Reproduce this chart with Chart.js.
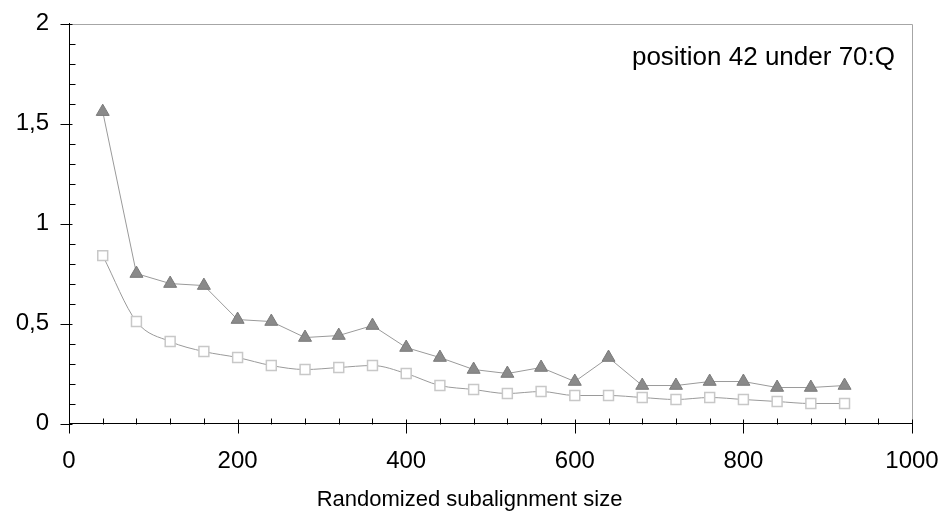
<!DOCTYPE html>
<html>
<head>
<meta charset="utf-8">
<script src="https://cdn.jsdelivr.net/npm/chart.js@4/dist/chart.umd.min.js"></script>
<style>
html,body{margin:0;padding:0;background:#fff;}
#wrap{width:947px;height:513px;position:relative;}
</style>
</head>
<body>
<div id="wrap"><canvas id="c" width="947" height="513"></canvas></div>
<script>
const sizes = [40, 80, 120, 160, 200, 240, 280, 320, 360, 400, 440, 480, 520, 560, 600, 640, 680, 720, 760, 800, 840, 880, 920];
const triangleSeries = [1.56, 0.75, 0.70, 0.69, 0.52, 0.51, 0.43, 0.44, 0.49, 0.38, 0.33, 0.27, 0.25, 0.28, 0.21, 0.33, 0.19, 0.19, 0.21, 0.21, 0.18, 0.18, 0.19];
const squareSeries = [0.84, 0.51, 0.41, 0.36, 0.33, 0.29, 0.27, 0.28, 0.29, 0.25, 0.19, 0.17, 0.15, 0.16, 0.14, 0.14, 0.13, 0.12, 0.13, 0.12, 0.11, 0.10, 0.10];
const xMajorTicks = [0, 200, 400, 600, 800, 1000];
const yMajorTicks = [0, 0.5, 1, 1.5, 2];
const yTickLabels = ['0', '0,5', '1', '1,5', '2'];
const xTitle = 'Randomized subalignment size';
const annotationText = 'position 42 under 70:Q';

const FONT = "'Liberation Sans', Arial, sans-serif";

function isMajor(list, v) { return list.some(m => Math.abs(m - v) < 1e-6); }

const decor = {
  id: 'decor',
  afterDraw(chart) {
    const ctx = chart.ctx;
    const a = chart.chartArea;
    const xs = chart.scales.x, ys = chart.scales.y;
    ctx.save();
    ctx.strokeStyle = '#a6a6a6';
    ctx.lineWidth = 1;
    ctx.beginPath();
    ctx.moveTo(Math.round(a.left) + 0.5, Math.round(a.top) + 0.5);
    ctx.lineTo(Math.round(a.right) + 0.5, Math.round(a.top) + 0.5);
    ctx.lineTo(Math.round(a.right) + 0.5, Math.round(a.bottom) + 0.5);
    ctx.stroke();
    ctx.strokeStyle = '#000';
    ctx.beginPath();
    const yb = Math.round(a.bottom) + 0.5;
    xs.ticks.forEach(t => {
      const px = Math.round(xs.getPixelForValue(t.value)) + 0.5;
      if (isMajor(xMajorTicks, t.value)) { ctx.moveTo(px, yb - 5); ctx.lineTo(px, yb + 9); }
      else { ctx.moveTo(px, yb - 6); ctx.lineTo(px, yb); }
    });
    const xl = Math.round(a.left) + 0.5;
    ys.ticks.forEach(t => {
      const py = Math.round(ys.getPixelForValue(t.value)) + 0.5;
      if (isMajor(yMajorTicks, t.value)) { ctx.moveTo(xl - 9, py); ctx.lineTo(xl + 3, py); }
      else { ctx.moveTo(xl, py); ctx.lineTo(xl + 6, py); }
    });
    ctx.stroke();
    ctx.fillStyle = '#000';
    ctx.font = '26px ' + FONT;
    ctx.textAlign = 'right';
    ctx.textBaseline = 'alphabetic';
    ctx.fillText(annotationText, 895, 65);
    ctx.font = '22px ' + FONT;
    ctx.textAlign = 'center';
    ctx.textBaseline = 'middle';
    ctx.fillText(xTitle, 469.5, 500);
    ctx.restore();
  }
};

new Chart(document.getElementById('c'), {
  type: 'line',
  data: {
    datasets: [
      {
        label: 'triangles',
        data: sizes.map((x, i) => ({x: x, y: triangleSeries[i]})),
        borderColor: '#9a9a9a',
        borderWidth: 1,
        pointStyle: 'triangle',
        pointRadius: 7.5,
        pointBackgroundColor: '#8a8a8a',
        pointBorderColor: '#7a7a7a',
        pointBorderWidth: 1,
        tension: 0
      },
      {
        label: 'squares',
        data: sizes.map((x, i) => ({x: x, y: squareSeries[i]})),
        borderColor: '#9a9a9a',
        borderWidth: 1,
        pointStyle: 'rect',
        pointRadius: 7,
        pointBackgroundColor: '#ffffff',
        pointBorderColor: '#c8c8c8',
        pointBorderWidth: 1.5,
        cubicInterpolationMode: 'monotone'
      }
    ]
  },
  options: {
    responsive: false,
    animation: false,
    events: [],
    layout: { padding: { top: 23.7, right: 35, left: 0, bottom: 0 } },
    plugins: { legend: { display: false }, tooltip: { enabled: false } },
    scales: {
      x: {
        type: 'linear',
        min: 0, max: 1000,
        afterFit(s) { s.height = 89.5; s.paddingLeft = 0; s.paddingRight = 0; },
        border: { display: true, color: '#000', width: 1 },
        grid: { display: false, drawTicks: false },
        ticks: {
          stepSize: 40,
          autoSkip: false,
          maxRotation: 0,
          padding: 23,
          color: '#000',
          font: { family: FONT, size: 24 },
          callback: v => isMajor(xMajorTicks, v) ? String(v) : ''
        }
      },
      y: {
        type: 'linear',
        min: 0, max: 2,
        afterFit(s) { s.width = 69; s.paddingTop = 0; s.paddingBottom = 0; },
        border: { display: true, color: '#000', width: 1 },
        grid: { display: false, drawTicks: false },
        ticks: {
          stepSize: 0.1,
          autoSkip: false,
          padding: 20,
          color: '#000',
          font: { family: FONT, size: 24 },
          callback: v => {
            const idx = yMajorTicks.findIndex(m => Math.abs(m - v) < 1e-6);
            return idx >= 0 ? yTickLabels[idx] : '';
          }
        }
      }
    }
  },
  plugins: [decor]
});
</script>
</body>
</html>
